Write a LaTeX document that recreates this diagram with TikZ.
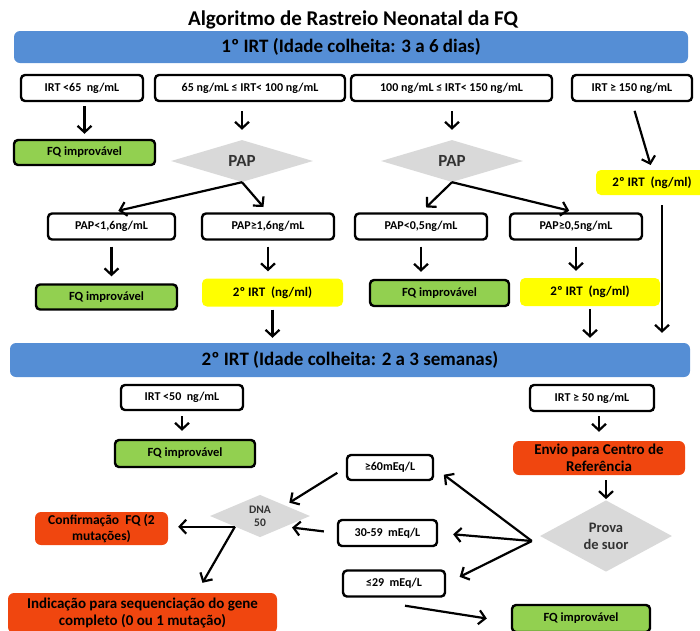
\documentclass[tikz,border=0pt]{standalone}
\usepackage{fontspec}
\setmainfont{Carlito}
\usetikzlibrary{shapes.geometric, arrows.meta}

\definecolor{bannerblue}{RGB}{85,142,213}
\definecolor{fqgreen}{RGB}{146,208,80}
\definecolor{irtyellow}{RGB}{255,255,0}
\definecolor{reforange}{RGB}{240,70,15}
\definecolor{papgray}{RGB}{217,217,217}

\begin{document}
\begin{tikzpicture}
          [
            x=1pt, y=-1pt,
            banner/.style={fill=bannerblue,rounded corners=6pt,inner sep=0,font=\bfseries\fontsize{19}{22}\selectfont},
            valbox/.style={draw,line width=2.4pt,rounded corners=4pt,fill=white,inner sep=0,minimum height=26pt,font=\bfseries\fontsize{12}{14}\selectfont},
            fqbox/.style={valbox,fill=fqgreen,font=\bfseries\fontsize{12.5}{14}\selectfont},
            irtbox/.style={fill=irtyellow,rounded corners=5pt,inner sep=0,minimum height=28pt,font=\bfseries\fontsize{13}{15}\selectfont},
            refbox/.style={fill=reforange,rounded corners=6pt,inner sep=0,align=center,font=\bfseries\fontsize{15}{17}\selectfont},
            test/.style={diamond,fill=papgray,inner sep=0,text=black!80,font=\bfseries\fontsize{17}{19}\selectfont},
            arr/.style={line width=2.2pt,-{Straight Barb[length=6.5pt,width=14pt]}}
          ]
          \useasboundingbox (0,0) rectangle (700,630);
          % titulo
          \node (title) at (353,20) {\bfseries\fontsize{21}{24}\selectfont Algoritmo de Rastreio Neonatal da FQ};
          % 1o IRT
          \node[banner,minimum width=674pt,minimum height=32pt] (b1) at (351,47) {1º IRT (Idade colheita: 3 a 6 dias)};
          \node[valbox,minimum width=122pt] (r1a) at (82,88) {IRT <65~~ng/mL};
          \node[valbox,minimum width=190pt] (r1b) at (250,88) {65 ng/mL ≤ IRT< 100 ng/mL};
          \node[valbox,minimum width=201pt] (r1c) at (451.5,88) {100 ng/mL ≤ IRT< 150 ng/mL};
          \node[valbox,minimum width=120pt] (r1d) at (632,88) {IRT ≥ 150 ng/mL};
          \node[fqbox,minimum width=141pt,minimum height=25pt] (g1) at (84.5,152.5) {FQ improvável};
          \node[test,minimum width=142pt,minimum height=42pt] (pap1) at (242,161) {PAP};
          \node[test,minimum width=142pt,minimum height=42pt] (pap2) at (452,161) {PAP};
          \node[irtbox,minimum width=112pt,minimum height=25pt] (y1) at (652,182.5) {2º IRT~~(ng/ml)};
          % PAP
          \node[valbox,minimum width=127pt] (p1) at (111.5,226.5) {PAP<1,6ng/mL};
          \node[valbox,minimum width=132pt] (p2) at (268,226.5) {PAP≥1,6ng/mL};
          \node[valbox,minimum width=132pt] (p3) at (421,226.5) {PAP<0,5ng/mL};
          \node[valbox,minimum width=132pt] (p4) at (576,226.5) {PAP≥0,5ng/mL};
          \node[fqbox,minimum width=141pt,minimum height=25pt] (g2) at (106.5,297) {FQ improvável};
          \node[irtbox,minimum width=141pt] (y2) at (272.5,292.5) {2º IRT~~(ng/ml)};
          \node[fqbox,minimum width=139pt,minimum height=26pt] (g3) at (439.5,293) {FQ improvável};
          \node[irtbox,minimum width=140pt] (y3) at (590,292) {2º IRT~~(ng/ml)};
          % 2o IRT
          \node[banner,minimum width=680pt,minimum height=34pt] (b2) at (350,360) {2º IRT (Idade colheita: 2 a 3 semanas)};
          \node[valbox,minimum width=122pt,minimum height=25pt] (s1) at (182,397.5) {IRT <50~~ng/mL};
          \node[fqbox,minimum width=140pt,minimum height=27pt] (g4) at (185,453.5) {FQ improvável};
          \node[valbox,minimum width=124pt] (s2) at (592,398) {IRT ≥ 50 ng/mL};
          \node[refbox,minimum width=172pt,minimum height=34pt] (o1) at (599,458) {Envio para Centro de\\Referência};
          \node[test,minimum width=132pt,minimum height=60pt,align=center,font=\bfseries\fontsize{14.5}{17}\selectfont] (suor) at (606,536) {Prova\\de suor};
          % prova de suor
          \node[valbox,minimum width=86pt,minimum height=25pt] (m1) at (390,467.5) {≥60mEq/L};
          \node[valbox,minimum width=99pt] (m2) at (387.5,533) {30-59~~mEq/L};
          \node[valbox,minimum width=102pt] (m3) at (394,583.5) {≤29~~mEq/L};
          \node[fqbox,minimum width=138pt,minimum height=27pt] (g5) at (581,618.5) {FQ improvável};
          \node[test,minimum width=100pt,minimum height=42pt,align=center,font=\bfseries\fontsize{11.5}{13}\selectfont] (dna) at (260,516) {DNA\\50};
          \node[refbox,minimum width=133pt,minimum height=33pt,font=\bfseries\fontsize{13.5}{15.5}\selectfont] (o2) at (101.5,528.5) {Confirmação~~FQ (2\\mutações)};
          \node[refbox,minimum width=269pt,minimum height=40pt] (o3) at (142.5,613) {Indicação para sequenciação do gene\\completo (0 ou 1 mutação)};
          % edges 1o IRT
          \foreach \a/\b/\s/\t in {r1a/g1/4/5,r1b/pap1/9/10,r1c/pap2/9/10} {
              \draw[arr,shorten <=\s pt,shorten >=\t pt] (\b.north |- \a.south) -- (\b.north);
          }
          \draw[arr,shorten <=9pt,shorten >=5pt] (r1d.south) -- (y1.north);
          % edges PAP
          \draw[arr,shorten >=7pt] (pap1.south) -- (p1.north);
          \draw[arr,shorten >=7pt] (pap1.south) -- (p2.north);
          \draw[arr,shorten >=7pt] (pap2.south) -- (p3.north);
          \draw[arr,shorten >=7pt] (pap2.south) -- (p4.north);
          \foreach \a/\b in {p1/g2,p2/y2,p3/g3,p4/y3} {
              \draw[arr,shorten <=6pt,shorten >=7pt] (\a.south) -- (\a.south |- \b.north);
          }
          % edges to 2o IRT
          \draw[arr,shorten <=3pt,shorten >=5pt] (y2.south) -- (y2.south |- b2.north);
          \draw[arr,shorten <=3pt,shorten >=5pt] (y3.south) -- (y3.south |- b2.north);
          \draw[arr,shorten <=10pt,shorten >=10pt] ([xshift=10pt]y1.south) -- ([xshift=10pt]y1.south |- b2.north);
          % edges 2o IRT
          \draw[arr,shorten <=5pt,shorten >=8pt] (s1.south) -- (s1.south |- g4.north);
          \draw[arr,shorten <=4pt,shorten >=9pt] (o1.north |- s2.south) -- (o1.north);
          \draw[arr,shorten <=5pt,shorten >=1pt] (suor.north |- o1.south) -- (suor.north);
          \coordinate (sw) at ([xshift=-8pt,yshift=-5pt]suor.west);
          \foreach \m/\s in {m1/12,m2/15,m3/15} {
              \draw[arr,shorten >=\s pt] (sw) -- (\m.east);
          }
          \draw[arr] ([xshift=11pt,yshift=-8pt]m3.south) -- ([xshift=-24pt]g5.west);
          % edges DNA
          \draw[arr,shorten <=10pt,shorten >=5pt] (m1.west) -- (dna.north east);
          \draw[arr,shorten <=13pt,shorten >=7pt] (m2.west) -- (dna.south east);
          \draw[arr,shorten >=10pt] (dna.south west) -- (dna.south west -| o2.east);
          \draw[arr] (dna.south west) -- ([xshift=60pt,yshift=10pt]o3.north);
        \end{tikzpicture}
\end{document}
